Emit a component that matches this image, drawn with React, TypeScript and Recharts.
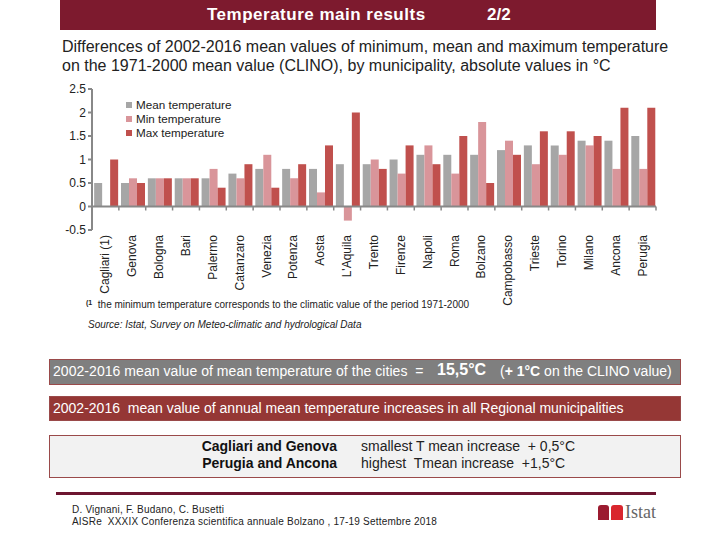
import React from 'react';
import {
  BarChart, Bar, XAxis, YAxis, ReferenceLine,
} from 'recharts';

const cities = [
  'Cagliari (1)', 'Genova', 'Bologna', 'Bari', 'Palermo', 'Catanzaro', 'Venezia',
  'Potenza', 'Aosta', "L'Aquila", 'Trento', 'Firenze', 'Napoli', 'Roma', 'Bolzano',
  'Campobasso', 'Trieste', 'Torino', 'Milano', 'Ancona', 'Perugia',
];
const meanTemp = [0.5, 0.5, 0.6, 0.6, 0.6, 0.7, 0.8, 0.8, 0.8, 0.9, 0.9, 1.0, 1.1, 1.1, 1.1, 1.2, 1.3, 1.3, 1.4, 1.4, 1.5];
const minTemp = [0, 0.6, 0.6, 0.6, 0.8, 0.6, 1.1, 0.6, 0.3, -0.3, 1.0, 0.7, 1.3, 0.7, 1.8, 1.4, 0.9, 1.1, 1.3, 0.8, 0.8];
const maxTemp = [1.0, 0.5, 0.6, 0.6, 0.4, 0.9, 0.4, 0.9, 1.3, 2.0, 0.8, 1.3, 0.9, 1.5, 0.5, 1.1, 1.6, 1.6, 1.5, 2.1, 2.1];
const yTicks = [-0.5, 0, 0.5, 1, 1.5, 2, 2.5];

const series = [
  { key: 'mean', name: 'Mean temperature', color: '#a6a6a6' },
  { key: 'min', name: 'Min temperature', color: '#d9959a' },
  { key: 'max', name: 'Max temperature', color: '#c0504d' },
];

const data = cities.map((city, i) => ({
  city,
  mean: meanTemp[i],
  min: minTemp[i],
  max: maxTemp[i],
}));

const FONT = '"Liberation Sans", Arial, sans-serif';

function CityTick(props: any) {
  const { x, y, payload } = props;
  const tx = x + 4;
  const ty = y - 3;
  return (
    <text
      x={tx}
      y={ty}
      transform={`rotate(-90, ${tx}, ${ty})`}
      textAnchor="end"
      fontSize={12}
      fontFamily={FONT}
      fill="#222"
    >
      {payload.value}
    </text>
  );
}

// zero line with small tick marks at the category boundaries
function ZeroAxis(props: any) {
  const { x1, x2, y1 } = props;
  const n = cities.length;
  const step = (x2 - x1) / n;
  const marks = [];
  for (let i = 1; i <= n; i++) {
    const x = x1 + step * i;
    marks.push(<line key={i} x1={x} x2={x} y1={y1} y2={y1 + 4} stroke="#888" strokeWidth={1.5} />);
  }
  return (
    <g>
      <line x1={x1} x2={x2} y1={y1} y2={y1} stroke="#888" strokeWidth={2} />
      {marks}
    </g>
  );
}

const abs = (left: number, top: number, extra: React.CSSProperties = {}): React.CSSProperties => ({
  position: 'absolute', left, top, whiteSpace: 'nowrap', ...extra,
});

export default function App() {
  return (
    <div style={{ position: 'absolute', left: 0, top: 0, width: 720, height: 540, background: '#fff', fontFamily: FONT, overflow: 'hidden' }}>
      <div style={abs(60, 0, { width: 596, height: 30, background: '#7d1a2e' })} />
      <div style={abs(207, 5, { color: '#fff', fontWeight: 'bold', fontSize: 17, letterSpacing: 0.5 })}>Temperature main results</div>
      <div style={abs(487, 5, { color: '#fff', fontWeight: 'bold', fontSize: 17 })}>2/2</div>

      <div style={abs(62, 37, { fontSize: 16, color: '#222', lineHeight: '19px' })}>
        Differences of 2002-2016 mean values of minimum, mean and maximum temperature<br />
        on the 1971-2000 mean value (CLINO), by municipality, absolute values in °C
      </div>

      <div style={abs(40, 80)}>
        <BarChart
          width={620}
          height={240}
          data={data}
          margin={{ top: 9, right: 4, bottom: 0, left: 0 }}
          barCategoryGap="8%"
          barGap={0}
        >
          <YAxis
            width={52}
            domain={[-0.5, 2.5]}
            ticks={yTicks}
            interval={0}
            stroke="#888"
            strokeWidth={2}
            tickSize={4}
            tick={{ fontSize: 12, fill: '#222', fontFamily: FONT }}
          />
          <XAxis
            dataKey="city"
            height={90}
            interval={0}
            axisLine={false}
            tickLine={false}
            tick={<CityTick />}
          />
          {series.map((s) => (
            <Bar key={s.key} dataKey={s.key} name={s.name} fill={s.color} isAnimationActive={false} />
          ))}
          <ReferenceLine y={0} shape={<ZeroAxis />} />
        </BarChart>
      </div>

      <div style={abs(126, 98, { fontSize: 11.7, color: '#222', lineHeight: '14px' })}>
        {series.map((s) => (
          <div key={s.key} style={{ display: 'flex', alignItems: 'center' }}>
            <span style={{ width: 6, height: 6, background: s.color, display: 'inline-block', marginRight: 4 }} />
            {s.name}
          </div>
        ))}
      </div>

      <div style={abs(86, 299, { fontSize: 10, color: '#222' })}>
        <span style={{ fontSize: 7, fontWeight: 'bold', verticalAlign: 'top' }}>(1</span>&nbsp; the minimum temperature corresponds to the climatic value of the period 1971-2000
      </div>
      <div style={abs(88, 319, { fontSize: 10, color: '#222', fontStyle: 'italic' })}>
        Source: Istat, Survey on Meteo-climatic and hydrological Data
      </div>

      <div style={abs(49, 359, { width: 630, height: 24, background: '#7f7f7f', border: '1px solid #9a4a4a' })} />
      <div style={abs(53, 363, { fontSize: 14, color: '#fff', letterSpacing: 0.05 })}>
        2002-2016 mean value of mean temperature of the cities&nbsp; =
      </div>
      <div style={abs(437, 361, { fontSize: 16, fontWeight: 'bold', color: '#fff' })}>15,5°C</div>
      <div style={abs(500, 363, { fontSize: 14, color: '#fff' })}>
        (<b>+ 1°C</b> on the CLINO value)
      </div>

      <div style={abs(49, 396, { width: 630, height: 23, background: '#953735', border: '1px solid #9a4a4a' })} />
      <div style={abs(53, 400, { fontSize: 14, color: '#fff' })}>
        2002-2016&nbsp; mean value of annual mean temperature increases in all Regional municipalities
      </div>

      <div style={abs(49, 435, { width: 630, height: 41, background: '#f2f2f2', border: '1px solid #9a4a4a' })} />
      <div style={abs(137, 438, { width: 200, textAlign: 'right', fontSize: 14, fontWeight: 'bold', color: '#111', lineHeight: '17px' })}>
        Cagliari and Genova<br />Perugia and Ancona
      </div>
      <div style={abs(361, 438, { fontSize: 14, color: '#222', lineHeight: '17px' })}>
        smallest T mean increase&nbsp; + 0,5°C<br />highest&nbsp; Tmean increase&nbsp; +1,5°C
      </div>

      <div style={abs(56, 492, { width: 600, height: 3, background: '#6d1530' })} />
      <div style={abs(72, 504, { fontSize: 10, color: '#222', lineHeight: '12px', letterSpacing: 0.2 })}>
        D. Vignani, F. Budano, C. Busetti<br />
        AISRe&nbsp; XXXIX Conferenza scientifica annuale Bolzano , 17-19 Settembre 2018
      </div>

      <div style={abs(598, 505, { width: 11, height: 15, background: '#9b1b30', borderRadius: '3px 3px 0 0' })} />
      <div style={abs(611, 505, { width: 12, height: 15, background: '#d9262e', borderRadius: '3px 3px 0 0' })} />
      <div style={abs(625, 502, { fontSize: 18, color: '#666', fontFamily: '"Liberation Serif", serif' })}>Istat</div>
    </div>
  );
}
